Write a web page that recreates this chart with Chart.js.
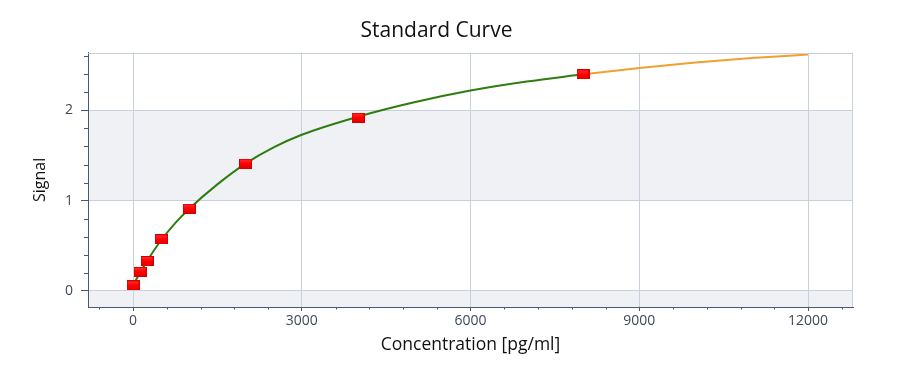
<!DOCTYPE html>
<html>
<head>
<meta charset="utf-8">
<script src="https://cdn.jsdelivr.net/npm/chart.js@4/dist/chart.umd.min.js"></script>
<style>
  html, body { margin: 0; padding: 0; background: #ffffff; }
  #wrap { width: 900px; height: 374px; }
</style>
</head>
<body>
<div id="wrap"><canvas id="c" width="900" height="374"></canvas></div>
<script>
// ---- data ----
const standardConc   = [0, 125, 250, 500, 1000, 2000, 4000, 8000];
const standardSignal = [0.06, 0.21, 0.33, 0.57, 0.91, 1.41, 1.92, 2.40];

const fitConc   = [0, 125, 250, 500, 750, 1000, 1500, 2000, 2500, 3000, 4000, 5000, 6000, 7000, 8000];
const fitSignal = [0.06, 0.20, 0.33, 0.56, 0.75, 0.91, 1.18, 1.41, 1.59, 1.73, 1.93, 2.09, 2.22, 2.32, 2.40];

const extConc   = [8000, 9000, 10000, 11000, 12000];
const extSignal = [2.40, 2.47, 2.53, 2.58, 2.62];

const xMajorTicks = [0, 3000, 6000, 9000, 12000];
const xMinorTicks = [-600, 600, 1200, 1800, 2400, 3600, 4200, 4800, 5400, 6600, 7200, 7800, 8400, 9600, 10200, 10800, 11400, 12600];
const yMajorTicks = [0, 1, 2];
const yMinorTicks = [0.2, 0.4, 0.6, 0.8, 1.2, 1.4, 1.6, 1.8, 2.2, 2.4, 2.6];
const shadedBands = [[-0.18, 0], [1, 2]];

const chartTitle = 'Standard Curve';
const xTitle = 'Concentration [pg/ml]';
const yTitle = 'Signal';

// ---- styling ----
const FONT = "'Open Sans', 'Noto Sans', sans-serif";
const AXIS_COLOR = '#4a5870';
const GRID_COLOR = '#c8d0dc';
const BAND_COLOR = '#eff1f5';
const TEXT_COLOR = '#3e4a5c';

function zip(xs, ys) { return xs.map((x, i) => ({ x: x, y: ys[i] })); }

// marker: red rectangle
const marker = document.createElement('canvas');
marker.width = 13; marker.height = 10;
(function () {
  const g = marker.getContext('2d');
  g.fillStyle = '#d40000';
  g.fillRect(0, 0, 13, 10);
  const grad = g.createLinearGradient(0, 1, 0, 9);
  grad.addColorStop(0, '#ff2a2a');
  grad.addColorStop(0.5, '#ff0000');
  grad.addColorStop(1, '#e80000');
  g.fillStyle = grad;
  g.fillRect(1, 1, 11, 8);
})();

const bandPlugin = {
  id: 'bands',
  beforeDraw(chart) {
    const { ctx, chartArea } = chart;
    const ys = chart.scales.y;
    ctx.save();
    ctx.fillStyle = BAND_COLOR;
    shadedBands.forEach(([a, b]) => {
      const top = ys.getPixelForValue(b);
      const bot = ys.getPixelForValue(a);
      ctx.fillRect(chartArea.left, top, chartArea.right - chartArea.left, bot - top);
    });
    ctx.restore();
  }
};

const framePlugin = {
  id: 'frame',
  afterDraw(chart) {
    const { ctx, chartArea } = chart;
    const xs = chart.scales.x, ys = chart.scales.y;
    ctx.save();
    // light top/right frame
    ctx.strokeStyle = GRID_COLOR;
    ctx.lineWidth = 1;
    ctx.beginPath();
    ctx.moveTo(chartArea.left, Math.round(chartArea.top) + 0.5);
    ctx.lineTo(chartArea.right, Math.round(chartArea.top) + 0.5);
    ctx.moveTo(Math.round(chartArea.right) - 0.5, chartArea.top);
    ctx.lineTo(Math.round(chartArea.right) - 0.5, chartArea.bottom);
    ctx.stroke();
    // minor ticks
    ctx.strokeStyle = AXIS_COLOR;
    ctx.beginPath();
    xMinorTicks.forEach(v => {
      const px = Math.round(xs.getPixelForValue(v)) + 0.5;
      ctx.moveTo(px, chartArea.bottom);
      ctx.lineTo(px, chartArea.bottom + 2.5);
    });
    yMinorTicks.forEach(v => {
      const py = Math.round(ys.getPixelForValue(v)) + 0.5;
      ctx.moveTo(chartArea.left, py);
      ctx.lineTo(chartArea.left - 4, py);
    });
    ctx.stroke();
    ctx.restore();
  }
};

const ctx = document.getElementById('c').getContext('2d');
new Chart(ctx, {
  type: 'line',
  data: {
    datasets: [
      {
        label: 'Standards',
        data: zip(standardConc, standardSignal),
        showLine: false,
        pointStyle: marker,
        pointRadius: 6,
        order: 0
      },
      {
        label: 'Fit',
        data: zip(fitConc, fitSignal),
        borderColor: '#2f7d10',
        borderWidth: 2,
        pointRadius: 0,
        fill: false,
        cubicInterpolationMode: 'monotone',
        order: 1
      },
      {
        label: 'Extrapolation',
        data: zip(extConc, extSignal),
        borderColor: '#f0a030',
        borderWidth: 2,
        pointRadius: 0,
        fill: false,
        cubicInterpolationMode: 'monotone',
        order: 2
      }
    ]
  },
  options: {
    responsive: false,
    animation: false,
    parsing: true,
    layout: { padding: { left: 20, right: 47, top: 8, bottom: 10 } },
    plugins: {
      legend: { display: false },
      tooltip: { enabled: false },
      title: {
        display: true,
        text: chartTitle,
        color: '#111111',
        font: { family: FONT, size: 21, weight: 'normal' },
        padding: { top: 10, bottom: 9.5 }
      }
    },
    scales: {
      x: {
        type: 'linear',
        min: -800,
        max: 12800,
        afterBuildTicks(scale) { scale.ticks = xMajorTicks.map(v => ({ value: v })); },
        afterFit(scale) { scale.height = 57; },
        ticks: {
          color: TEXT_COLOR,
          font: { family: FONT, size: 14 },
          padding: 2,
          maxRotation: 0,
          autoSkip: false,
          callback: v => String(v)
        },
        grid: { color: GRID_COLOR, tickColor: AXIS_COLOR, tickLength: 4, lineWidth: 1 },
        border: { display: true, color: AXIS_COLOR, width: 1 },
        title: {
          display: true,
          text: xTitle,
          color: '#111111',
          font: { family: FONT, size: 17.5 },
          padding: { top: 0, bottom: 8.5 }
        }
      },
      y: {
        type: 'linear',
        min: -0.18,
        max: 2.64,
        afterBuildTicks(scale) { scale.ticks = yMajorTicks.map(v => ({ value: v })); },
        afterFit(scale) { scale.width = 68; },
        ticks: {
          color: TEXT_COLOR,
          font: { family: FONT, size: 14 },
          padding: 8,
          autoSkip: false,
          callback: v => String(v)
        },
        grid: { color: GRID_COLOR, tickColor: AXIS_COLOR, tickLength: 7, lineWidth: 1 },
        border: { display: true, color: AXIS_COLOR, width: 1 },
        title: {
          display: true,
          text: yTitle,
          color: '#111111',
          font: { family: FONT, size: 16 },
          padding: { top: 11, bottom: 0 }
        }
      }
    }
  },
  plugins: [bandPlugin, framePlugin]
});
</script>
</body>
</html>
